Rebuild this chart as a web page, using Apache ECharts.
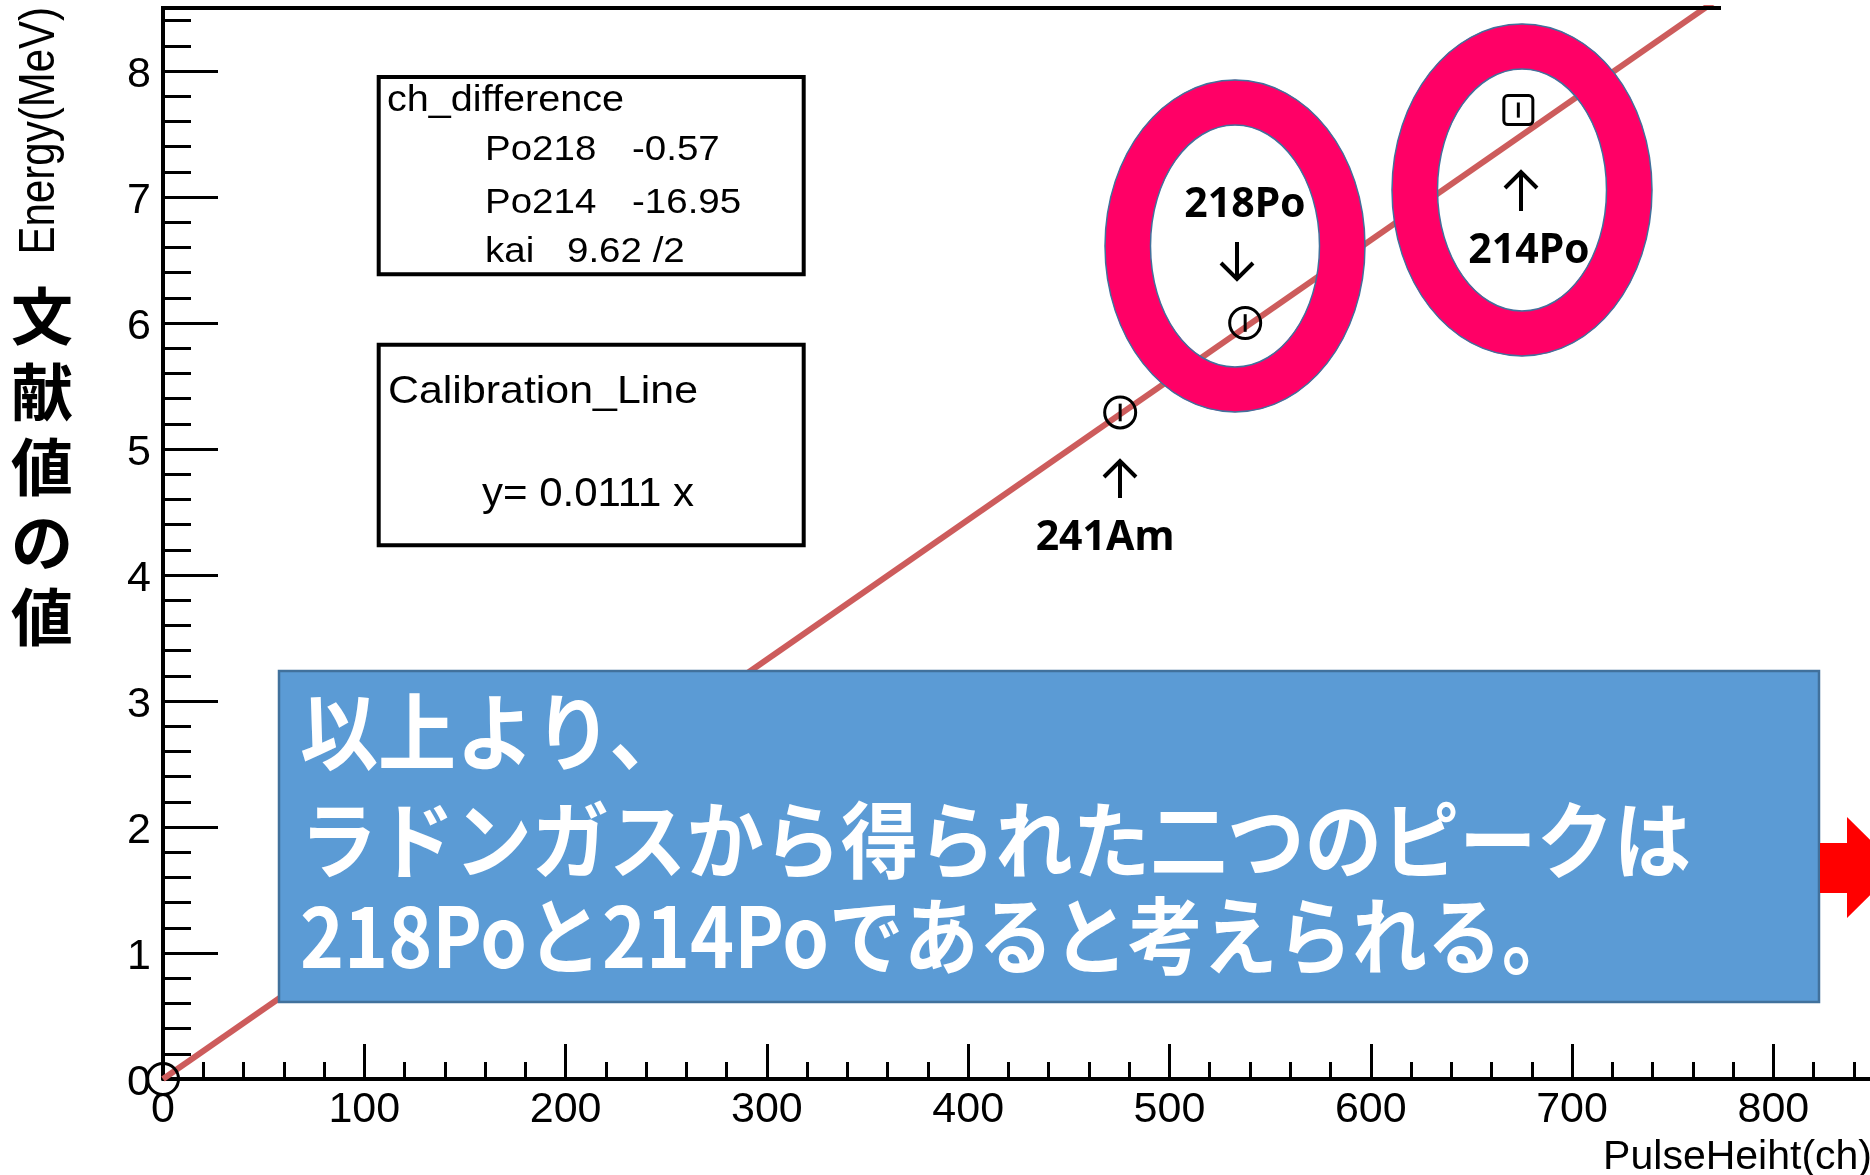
<!DOCTYPE html>
<html style="height: 100%">
<head>
    <meta charset="utf-8">
</head>
<body style="height: 100%; margin: 0; background: #fff">
<div id="calib" style="width: 1870px; height: 1175px"></div>
<script src="https://cdn.jsdelivr.net/npm/echarts@6.0.0/dist/echarts.min.js"></script>
<script type="text/javascript">
    // 校正直線 y = 0.0111 x
    var lineCh = [0, 848];
    var lineE = [0, 9.41];

    // 測定点 (ch, MeV, 誤差)
    var peakName = ['0', '241Am', '218Po', '214Po'];
    var peakCh = [0, 475.5, 537.6, 673.3];
    var peakE = [0, 5.29, 6.00, 7.69];
    var peakErr = [0, 0.07, 0.07, 0.06];
    var peakMark = ['circle', 'circle', 'circle', 'rect'];

    // 目盛り
    var xMajor = [0, 100, 200, 300, 400, 500, 600, 700, 800];
    var xMinor = [20, 40, 60, 80, 120, 140, 160, 180, 220, 240, 260, 280, 320, 340, 360, 380,
        420, 440, 460, 480, 520, 540, 560, 580, 620, 640, 660, 680, 720, 740, 760, 780, 820, 840];
    var yMajor = [0, 1, 2, 3, 4, 5, 6, 7, 8];
    var yMinor = [0.2, 0.4, 0.6, 0.8, 1.2, 1.4, 1.6, 1.8, 2.2, 2.4, 2.6, 2.8, 3.2, 3.4, 3.6, 3.8,
        4.2, 4.4, 4.6, 4.8, 5.2, 5.4, 5.6, 5.8, 6.2, 6.4, 6.6, 6.8, 7.2, 7.4, 7.6, 7.8, 8.2, 8.4];

    // 表示テキスト
    var diffTitle = 'ch_difference';
    var diffRows = [['Po218', '-0.57'], ['Po214', '-16.95'], ['kai', '9.62 /2']];
    var fitTitle = 'Calibration_Line';
    var fitText = 'y= 0.0111 x';
    var noteLines = ['以上より、', 'ラドンガスから得られた二つのピークは', '218Poと214Poであると考えられる。'];

    var ROOTFONT = '"Liberation Sans", Arial, sans-serif';
    var JPFONT = '"Noto Sans CJK JP", sans-serif';

    var myChart = echarts.init(document.getElementById('calib'));

    function txt(x, y, s, size, extra) {
        var st = {
            text: s, fontSize: size, fontFamily: ROOTFONT, fill: '#000',
            align: 'left', verticalAlign: 'middle'
        };
        var el = {type: 'text', x: x, y: y, z: 60, style: st};
        if (extra) {
            for (var k in extra) {
                if (k === 'style') {
                    for (var j in extra.style) st[j] = extra.style[j];
                } else {
                    el[k] = extra[k];
                }
            }
        }
        return el;
    }

    function arrow(x, y1, y2) {
        // y1: 根元, y2: 先端
        var d = y2 > y1 ? -16 : 16;
        return [
            {type: 'line', z: 60, shape: {x1: x, y1: y1, x2: x, y2: y2},
                style: {stroke: '#000', lineWidth: 4}},
            {type: 'polyline', z: 60, shape: {points: [[x - 16, y2 + d], [x, y2], [x + 16, y2 + d]]},
                style: {stroke: '#000', lineWidth: 4, fill: null}}
        ];
    }

    function ring(cx, cy) {
        return [
            {type: 'ellipse', z: 50, shape: {cx: cx, cy: cy, rx: 107.3, ry: 143.5},
                style: {fill: null, stroke: '#FF0066', lineWidth: 45.5}},
            {type: 'ellipse', z: 51, shape: {cx: cx, cy: cy, rx: 130, ry: 166},
                style: {fill: null, stroke: '#41719C', lineWidth: 1.5}},
            {type: 'ellipse', z: 51, shape: {cx: cx, cy: cy, rx: 84.5, ry: 121},
                style: {fill: null, stroke: '#41719C', lineWidth: 1.5}}
        ];
    }

    var peakData = [];
    for (var i = 0; i < peakCh.length; i++) {
        peakData.push([peakCh[i], peakE[i], peakErr[i], i]);
    }

    var g = [];
    // 上枠
    g.push({type: 'line', z: 40, shape: {x1: 161, y1: 8, x2: 1721, y2: 8}, style: {stroke: '#000', lineWidth: 4}});
    // 軸タイトル
    g.push(txt(40, 7, 'Energy(MeV)', 42, {rotation: Math.PI / 2, scaleY: 1.2, style: {align: 'right'}}));
    g.push(txt(42, 279, '文\n献\n値\nの\n値', 62, {style: {
        align: 'center', verticalAlign: 'top', fontFamily: JPFONT, fontWeight: 'bold', lineHeight: 75.3}}));
    g.push(txt(1872, 1158, 'PulseHeiht(ch)', 41, {style: {align: 'right'}}));

    // ch_difference ボックス
    g.push({type: 'rect', z: 40, shape: {x: 378.7, y: 77, width: 425, height: 197.3},
        style: {fill: '#fff', stroke: '#000', lineWidth: 4}});
    g.push(txt(387, 101.5, diffTitle, 36, {scaleX: 1.1}));
    var rowY = [150.2, 203.3, 252.3];
    var valX = [632, 632, 567];
    for (var r = 0; r < diffRows.length; r++) {
        g.push(txt(485, rowY[r], diffRows[r][0], 35, {scaleX: 1.1}));
        g.push(txt(valX[r], rowY[r], diffRows[r][1], 35, {scaleX: 1.1}));
    }

    // Calibration_Line ボックス
    g.push({type: 'rect', z: 40, shape: {x: 378.7, y: 344.7, width: 425, height: 200.6},
        style: {fill: '#fff', stroke: '#000', lineWidth: 4}});
    g.push(txt(388, 392.5, fitTitle, 39, {scaleX: 1.1}));
    g.push(txt(482, 495, fitText, 40, {scaleX: 1.05}));

    // ピーク注記
    var tagStyle = {align: 'center', fontFamily: '"Noto Sans", sans-serif', fontWeight: 'bold'};
    g = g.concat(ring(1235, 246), ring(1522, 190));
    g.push(txt(1245, 205, '218Po', 41, {style: tagStyle}));
    g = g.concat(arrow(1237, 242, 279));
    g.push(txt(1529, 251, '214Po', 41, {style: tagStyle}));
    g = g.concat(arrow(1521, 211, 172));
    g.push(txt(1105, 538, '241Am', 41, {style: tagStyle}));
    g = g.concat(arrow(1120, 498, 461));

    // 結論ボックス
    g.push({type: 'rect', z: 70, shape: {x: 279, y: 671, width: 1540, height: 331},
        style: {fill: '#5B9BD5', stroke: '#41719C', lineWidth: 2.5}});
    var noteY = [732, 840, 936];
    var noteScale = [0.93, 0.92, 0.89];
    for (var n = 0; n < noteLines.length; n++) {
        g.push(txt(300, noteY[n], noteLines[n], 84, {z: 71, scaleX: noteScale[n], style: {
            fill: '#fff', fontFamily: JPFONT, fontWeight: 'bold'}}));
    }
    g.push({type: 'polygon', z: 70, shape: {points: [[1820, 843], [1847, 843], [1847, 817], [1898, 867.5],
        [1847, 918], [1847, 893], [1820, 893]]}, style: {fill: '#FF0000'}});

    var optionCalib = {
        backgroundColor: '#fff',
        animation: false,
        grid: {left: 163, right: 0, top: 8, bottom: 96, containLabel: false},
        xAxis: [{
            type: 'value', min: 0, max: 848,
            axisLine: {lineStyle: {color: '#000', width: 4}},
            axisTick: {inside: true, length: 35, customValues: xMajor, lineStyle: {color: '#000', width: 3}},
            axisLabel: {customValues: xMajor, margin: 10, color: '#000', fontSize: 43, fontFamily: ROOTFONT},
            splitLine: {show: false}
        }, {
            type: 'value', min: 0, max: 848, position: 'bottom',
            axisLine: {show: false},
            axisTick: {inside: true, length: 17, customValues: xMinor, lineStyle: {color: '#000', width: 3}},
            axisLabel: {show: false},
            splitLine: {show: false}
        }],
        yAxis: [{
            type: 'value', min: 0, max: 8.5,
            axisLine: {lineStyle: {color: '#000', width: 4}},
            axisTick: {inside: true, length: 55, customValues: yMajor, lineStyle: {color: '#000', width: 3}},
            axisLabel: {customValues: yMajor, margin: 12, verticalAlign: 'top', lineHeight: 8,
                color: '#000', fontSize: 43, fontFamily: ROOTFONT},
            splitLine: {show: false}
        }, {
            type: 'value', min: 0, max: 8.5, position: 'left',
            axisLine: {show: false},
            axisTick: {inside: true, length: 28, customValues: yMinor, lineStyle: {color: '#000', width: 3}},
            axisLabel: {show: false},
            splitLine: {show: false}
        }],
        series: [{
            name: 'Calibration_Line',
            type: 'line',
            data: lineCh.map(function (c, k) { return [c, lineE[k]]; }),
            symbol: 'none',
            clip: true,
            z: 2,
            lineStyle: {color: '#CD5C5C', width: 6}
        }, {
            name: 'peaks',
            type: 'custom',
            z: 3,
            data: peakData,
            renderItem: function (params, api) {
                var x = api.value(0), y = api.value(1), e = api.value(2);
                var c = api.coord([x, y]);
                var hi = api.coord([x, y + e]);
                var lo = api.coord([x, y - e]);
                var mark = peakMark[api.value(3)];
                var box = mark === 'rect'
                    ? {type: 'rect', shape: {x: c[0] - 14.5, y: c[1] - 14.5, width: 29, height: 29, r: 4},
                        style: {fill: null, stroke: '#000', lineWidth: 3}}
                    : {type: 'circle', shape: {cx: c[0], cy: c[1], r: 15.5},
                        style: {fill: null, stroke: '#000', lineWidth: 3}};
                return {type: 'group', children: [box, {
                    type: 'line', shape: {x1: c[0], y1: hi[1], x2: c[0], y2: lo[1]},
                    style: {stroke: '#000', lineWidth: 3}
                }]};
            }
        }],
        graphic: {elements: g}
    };
    myChart.setOption(optionCalib);
    window.addEventListener("resize", function () {
        myChart.resize();
    });
</script>
</body>
</html>
